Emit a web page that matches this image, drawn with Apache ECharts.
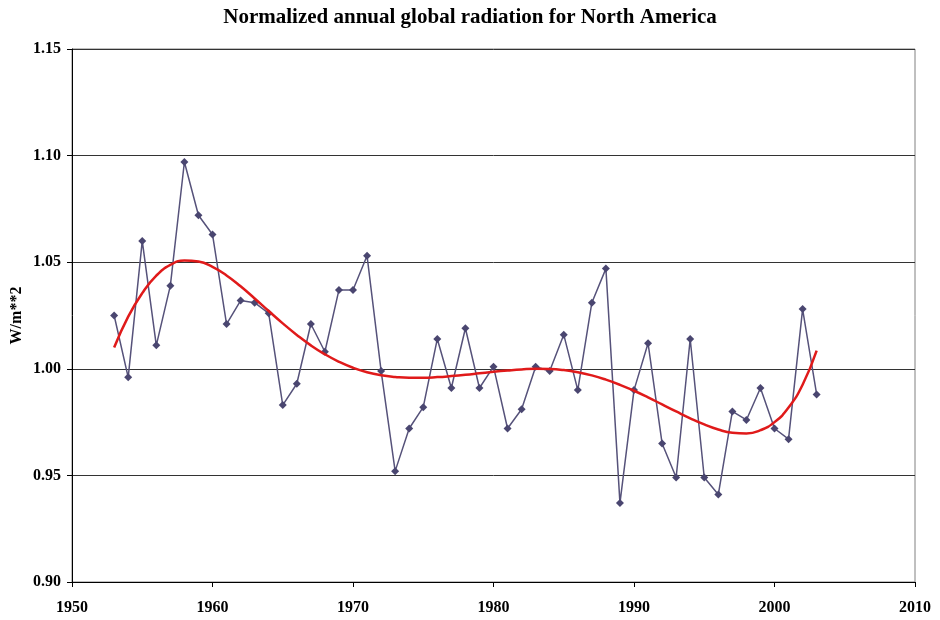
<!DOCTYPE html>
<html>
<head>
<meta charset="utf-8">
<script src="https://cdn.jsdelivr.net/npm/echarts@6/dist/echarts.min.js"></script>
<style>html,body{margin:0;padding:0;background:#fff}#c{width:940px;height:620px}</style>
</head>
<body>
<div id="c"></div>
<script>
const years = [1953,1954,1955,1956,1957,1958,1959,1960,1961,1962,1963,1964,1965,1966,1967,1968,1969,1970,1971,1972,1973,1974,1975,1976,1977,1978,1979,1980,1981,1982,1983,1984,1985,1986,1987,1988,1989,1990,1991,1992,1993,1994,1995,1996,1997,1998,1999,2000,2001,2002,2003];
const radiation = [1.025,0.996,1.060,1.011,1.039,1.097,1.072,1.063,1.021,1.032,1.031,1.026,0.983,0.993,1.021,1.008,1.037,1.037,1.053,0.999,0.952,0.972,0.982,1.014,0.991,1.019,0.991,1.001,0.972,0.981,1.001,0.999,1.016,0.990,1.031,1.047,0.937,0.990,1.012,0.965,0.949,1.014,0.949,0.941,0.980,0.976,0.991,0.972,0.967,1.028,0.988];
const trend = [1.0100,1.0245,1.0355,1.0437,1.0487,1.0508,1.0503,1.0478,1.0438,1.0387,1.0330,1.0271,1.0213,1.0159,1.0110,1.0068,1.0033,1.0005,0.9984,0.9970,0.9962,0.9958,0.9958,0.9961,0.9966,0.9972,0.9979,0.9986,0.9992,0.9997,1.0000,0.9999,0.9994,0.9984,0.9969,0.9949,0.9925,0.9897,0.9866,0.9833,0.9800,0.9768,0.9739,0.9715,0.9700,0.9697,0.9712,0.9750,0.9818,0.9925,1.0085];
const yTicks = {min:0.90,max:1.15,step:0.05};
const xTicks = {min:1950,max:2010,step:10};

const chart = echarts.init(document.getElementById('c'), null, {renderer:'canvas'});
const serif = '"Liberation Serif","Times New Roman",serif';
chart.setOption({
  backgroundColor:'#fff',
  animation:false,
  title:{text:'Normalized annual global radiation for North America',left:'center',top:2,
    textStyle:{fontFamily:serif,fontWeight:'bold',fontSize:21,color:'#000'}},
  grid:{left:72,right:25,top:49,bottom:38,containLabel:false,outerBoundsMode:'none',
    show:true,borderColor:'#808080',borderWidth:1},
  xAxis:{type:'value',min:xTicks.min,max:xTicks.max,interval:xTicks.step,
    axisLine:{onZero:false,lineStyle:{color:'#000',width:1}},
    axisTick:{show:true,length:5,lineStyle:{color:'#000'}},
    splitLine:{show:false},
    axisLabel:{fontFamily:serif,fontWeight:'bold',fontSize:16,color:'#000',margin:18,
      formatter:v=>String(v)}},
  yAxis:{type:'value',min:yTicks.min,max:yTicks.max,interval:yTicks.step,
    name:'W/m**2',nameLocation:'middle',nameGap:47,nameRotate:90,nameMoveOverlap:false,
    nameTextStyle:{fontFamily:serif,fontWeight:'bold',fontSize:16,color:'#000'},
    axisLine:{show:true,lineStyle:{color:'#000',width:1}},
    axisTick:{show:true,length:5,lineStyle:{color:'#000'}},
    splitLine:{show:true,lineStyle:{color:'#333',width:1}},
    axisLabel:{fontFamily:serif,fontWeight:'bold',fontSize:16,color:'#000',margin:11,
      formatter:v=>v.toFixed(2)}},
  series:[
    {type:'line',data:years.map((y,i)=>[y,radiation[i]]),symbol:'diamond',symbolSize:8,
      lineStyle:{color:'#56527a',width:1.5},itemStyle:{color:'#4a4670'},z:2},
    {type:'line',data:years.map((y,i)=>[y,trend[i]]),symbol:'none',smooth:true,
      lineStyle:{color:'#e01a1a',width:2.5},z:3}
  ]
});
</script>
</body>
</html>
